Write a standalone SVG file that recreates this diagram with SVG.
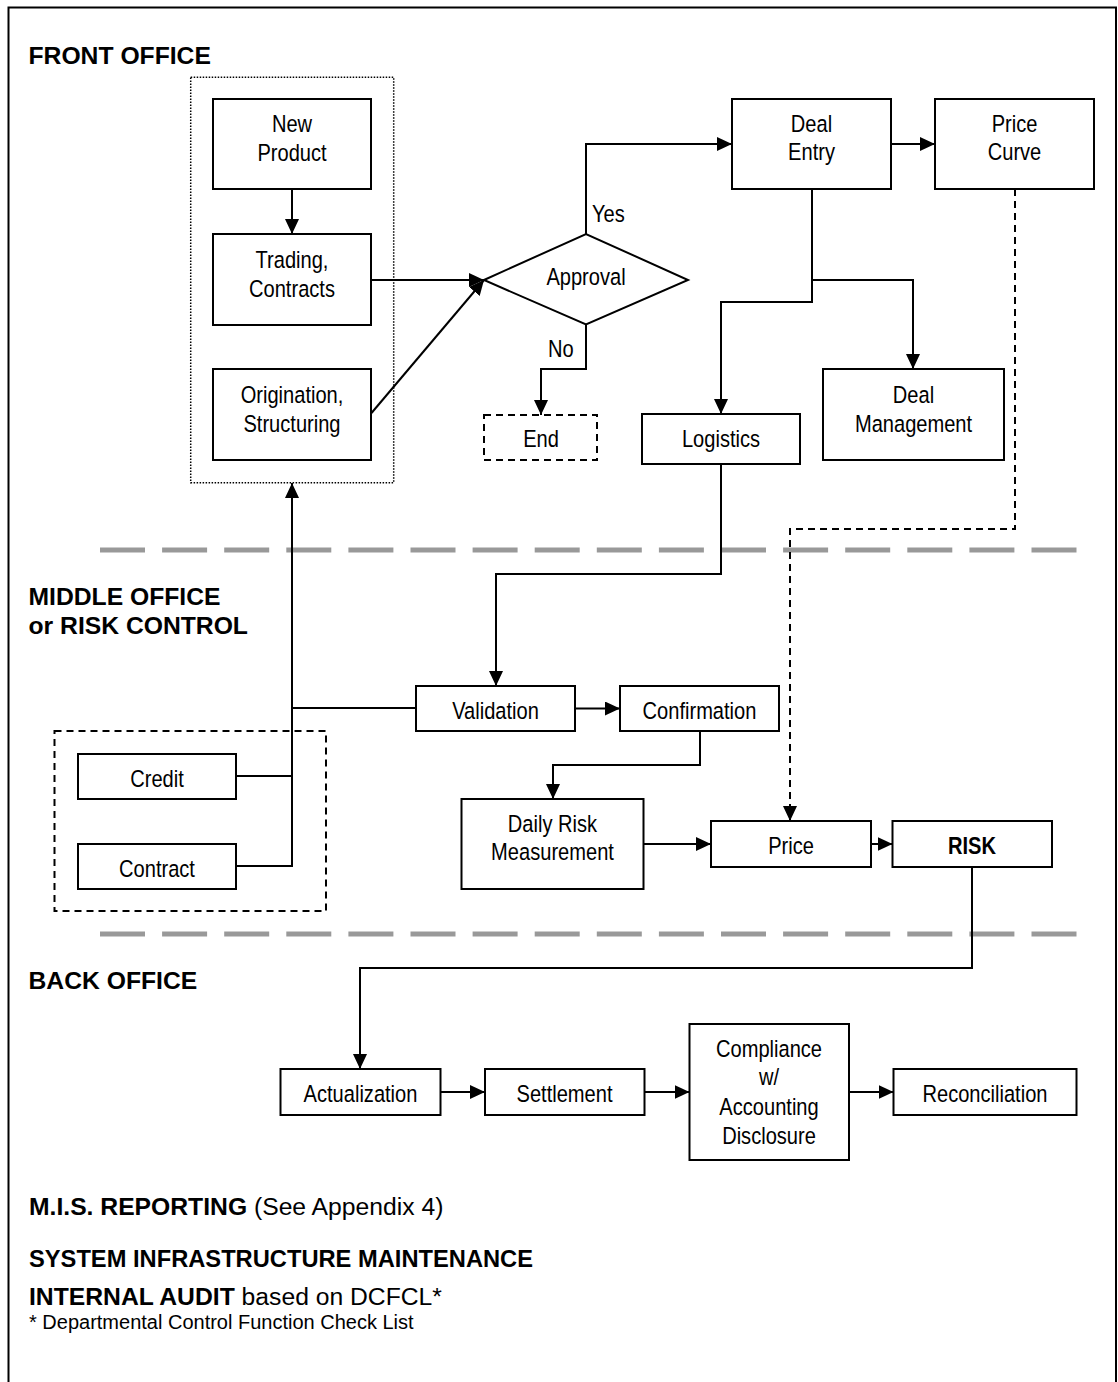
<svg xmlns="http://www.w3.org/2000/svg" width="1118" height="1382" viewBox="0 0 1118 1382">
  <style>
    .box { fill: #fff; stroke: #000; stroke-width: 2; }
    .dash-box { fill: none; stroke: #000; stroke-width: 2; stroke-dasharray: 7 5; }
    .dot-box { fill: none; stroke: #000; stroke-width: 1.5; stroke-dasharray: 1.5 1.5; }
    /* condensed node labels: regular face squeezed horizontally */
    .lbl { font-family: "Liberation Sans", Arial, sans-serif; font-size: 24.5px; fill: #000; text-anchor: middle; }
    .lbl-l { font-family: "Liberation Sans", Arial, sans-serif; font-size: 24.5px; fill: #000; }
    .head { font-family: "Liberation Sans", Arial, sans-serif; font-size: 24.7px; font-weight: bold; fill: #000; }
    .plain { font-family: "Liberation Sans", Arial, sans-serif; font-size: 24.7px; fill: #000; }
    .note { font-family: "Liberation Sans", Arial, sans-serif; font-size: 20px; fill: #000; }
    .wire { fill: none; stroke: #000; stroke-width: 2; }
    .wire-d { fill: none; stroke: #000; stroke-width: 2; stroke-dasharray: 7 5; }
    .sep { fill: none; stroke: #999; stroke-width: 5; stroke-dasharray: 45 17.1; }
  </style>
  <defs>
    <marker id="arrow" markerUnits="userSpaceOnUse" markerWidth="15" markerHeight="14" refX="15" refY="7" orient="auto">
      <path d="M0,0 L15,7 L0,14 Z" fill="#000"/>
    </marker>
  </defs>

  <!-- page frame -->
  <rect x="8.5" y="7.5" width="1107.5" height="1390" fill="#fff" stroke="#000" stroke-width="2"/>

  <!-- section separators -->
  <path class="sep" d="M100,550 H1078"/>
  <path class="sep" d="M100,934 H1078"/>

  <!-- section headings -->
  <g id="headings">
    <text class="head" x="28.5" y="64">FRONT OFFICE</text>
    <text class="head" x="28.5" y="605">MIDDLE OFFICE</text>
    <text class="head" x="28.5" y="634">or RISK CONTROL</text>
    <text class="head" x="28.5" y="989">BACK OFFICE</text>
  </g>

  <!-- group outlines -->
  <rect id="front-group" class="dot-box" x="190.7" y="77.3" width="203" height="405.4"/>
  <rect id="credit-group" class="dash-box" x="54.5" y="731" width="271.5" height="180"/>

  <!-- connectors -->
  <g id="connectors">
    <path class="wire" d="M292,189 V234" marker-end="url(#arrow)"/>
    <path class="wire" d="M371,280 H484" marker-end="url(#arrow)"/>
    <path class="wire" d="M371.5,413 L484,280" marker-end="url(#arrow)"/>
    <path class="wire" d="M586,234 V144 H732" marker-end="url(#arrow)"/>
    <path class="wire" d="M586,324 V369 H541 V415" marker-end="url(#arrow)"/>
    <path class="wire" d="M891,144 H935" marker-end="url(#arrow)"/>
    <path class="wire" d="M812,189 V302 H721 V414" marker-end="url(#arrow)"/>
    <path class="wire" d="M812,280 H913 V369" marker-end="url(#arrow)"/>
    <path class="wire-d" d="M1015,189 V529 H790 V821" marker-end="url(#arrow)"/>
    <path class="wire" d="M721,464 V574 H496 V686" marker-end="url(#arrow)"/>
    <path class="wire" d="M236,776 H292"/>
    <path class="wire" d="M236,866 H292 V483" marker-end="url(#arrow)"/>
    <path class="wire" d="M292,708 H416"/>
    <path class="wire" d="M575,708.5 H620" marker-end="url(#arrow)"/>
    <path class="wire" d="M700,731 V765 H553 V799" marker-end="url(#arrow)"/>
    <path class="wire" d="M643.5,844 H711" marker-end="url(#arrow)"/>
    <path class="wire" d="M871,844 H892.5" marker-end="url(#arrow)"/>
    <path class="wire" d="M972,867 V968 H360 V1069" marker-end="url(#arrow)"/>
    <path class="wire" d="M440.5,1092 H485" marker-end="url(#arrow)"/>
    <path class="wire" d="M644.5,1092 H689.5" marker-end="url(#arrow)"/>
    <path class="wire" d="M849,1092 H893.5" marker-end="url(#arrow)"/>
  </g>

  <!-- front office -->
  <g id="new-product">
    <rect class="box" x="213" y="99" width="158" height="90"/>
    <g transform="translate(292 0) scale(0.82 1)">
      <text class="lbl" x="0" y="132">New</text>
      <text class="lbl" x="0" y="161">Product</text>
    </g>
  </g>
  <g id="trading">
    <rect class="box" x="213" y="234" width="158" height="91"/>
    <g transform="translate(292 0) scale(0.82 1)">
      <text class="lbl" x="0" y="268">Trading,</text>
      <text class="lbl" x="0" y="297">Contracts</text>
    </g>
  </g>
  <g id="origination">
    <rect class="box" x="213" y="369" width="158" height="91"/>
    <g transform="translate(292 0) scale(0.82 1)">
      <text class="lbl" x="0" y="403">Origination,</text>
      <text class="lbl" x="0" y="432">Structuring</text>
    </g>
  </g>
  <g id="approval">
    <path class="box" d="M484,280 L586,234 L688,280 L586,324.5 Z"/>
    <g transform="translate(586 0) scale(0.82 1)">
      <text class="lbl" x="0" y="285">Approval</text>
    </g>
    <g transform="translate(592 0) scale(0.82 1)">
      <text class="lbl-l" x="0" y="222">Yes</text>
    </g>
    <g transform="translate(548 0) scale(0.82 1)">
      <text class="lbl-l" x="0" y="357">No</text>
    </g>
  </g>
  <g id="end">
    <rect class="dash-box" x="484" y="415" width="113" height="45"/>
    <g transform="translate(541 0) scale(0.82 1)">
      <text class="lbl" x="0" y="447">End</text>
    </g>
  </g>
  <g id="deal-entry">
    <rect class="box" x="732" y="99" width="159" height="90"/>
    <g transform="translate(811.5 0) scale(0.82 1)">
      <text class="lbl" x="0" y="132">Deal</text>
      <text class="lbl" x="0" y="160">Entry</text>
    </g>
  </g>
  <g id="price-curve">
    <rect class="box" x="935" y="99" width="159" height="90"/>
    <g transform="translate(1014.5 0) scale(0.82 1)">
      <text class="lbl" x="0" y="132">Price</text>
      <text class="lbl" x="0" y="160">Curve</text>
    </g>
  </g>
  <g id="deal-management">
    <rect class="box" x="823" y="369" width="181" height="91"/>
    <g transform="translate(913.5 0) scale(0.82 1)">
      <text class="lbl" x="0" y="403">Deal</text>
      <text class="lbl" x="0" y="432">Management</text>
    </g>
  </g>
  <g id="logistics">
    <rect class="box" x="642" y="414" width="158" height="50"/>
    <g transform="translate(721 0) scale(0.82 1)">
      <text class="lbl" x="0" y="447">Logistics</text>
    </g>
  </g>

  <!-- middle office -->
  <g id="validation">
    <rect class="box" x="416" y="686" width="159" height="45"/>
    <g transform="translate(495.5 0) scale(0.82 1)">
      <text class="lbl" x="0" y="719">Validation</text>
    </g>
  </g>
  <g id="confirmation">
    <rect class="box" x="620" y="686" width="159" height="45"/>
    <g transform="translate(699.5 0) scale(0.82 1)">
      <text class="lbl" x="0" y="719">Confirmation</text>
    </g>
  </g>
  <g id="credit">
    <rect class="box" x="78" y="754" width="158" height="45"/>
    <g transform="translate(157 0) scale(0.82 1)">
      <text class="lbl" x="0" y="787">Credit</text>
    </g>
  </g>
  <g id="contract">
    <rect class="box" x="78" y="844" width="158" height="45"/>
    <g transform="translate(157 0) scale(0.82 1)">
      <text class="lbl" x="0" y="877">Contract</text>
    </g>
  </g>
  <g id="daily-risk">
    <rect class="box" x="461.5" y="799" width="182" height="90"/>
    <g transform="translate(552.5 0) scale(0.82 1)">
      <text class="lbl" x="0" y="832">Daily Risk</text>
      <text class="lbl" x="0" y="860">Measurement</text>
    </g>
  </g>
  <g id="price">
    <rect class="box" x="711" y="821" width="160" height="46"/>
    <g transform="translate(791 0) scale(0.82 1)">
      <text class="lbl" x="0" y="854">Price</text>
    </g>
  </g>
  <g id="risk">
    <rect class="box" x="892.5" y="821" width="159.5" height="46"/>
    <g transform="translate(972 0) scale(0.82 1)">
      <text class="lbl" x="0" y="854" font-weight="bold">RISK</text>
    </g>
  </g>

  <!-- back office -->
  <g id="actualization">
    <rect class="box" x="280.5" y="1069" width="160" height="46"/>
    <g transform="translate(360.5 0) scale(0.82 1)">
      <text class="lbl" x="0" y="1102">Actualization</text>
    </g>
  </g>
  <g id="settlement">
    <rect class="box" x="485" y="1069" width="159.5" height="46"/>
    <g transform="translate(564.5 0) scale(0.82 1)">
      <text class="lbl" x="0" y="1102">Settlement</text>
    </g>
  </g>
  <g id="compliance">
    <rect class="box" x="689.5" y="1024" width="159.5" height="136"/>
    <g transform="translate(769 0) scale(0.82 1)">
      <text class="lbl" x="0" y="1057">Compliance</text>
      <text class="lbl" x="0" y="1085">w/</text>
      <text class="lbl" x="0" y="1115">Accounting</text>
      <text class="lbl" x="0" y="1144">Disclosure</text>
    </g>
  </g>
  <g id="reconciliation">
    <rect class="box" x="893.5" y="1069" width="183" height="46"/>
    <g transform="translate(985 0) scale(0.82 1)">
      <text class="lbl" x="0" y="1102">Reconciliation</text>
    </g>
  </g>

  <!-- reporting notes -->
  <g id="notes">
    <text x="29" y="1215"><tspan class="head">M.I.S. REPORTING</tspan><tspan class="plain"> (See Appendix 4)</tspan></text>
    <text class="head" x="29" y="1267" textLength="504" lengthAdjust="spacingAndGlyphs">SYSTEM INFRASTRUCTURE MAINTENANCE</text>
    <text x="29" y="1305"><tspan class="head">INTERNAL AUDIT</tspan><tspan class="plain"> based on DCFCL*</tspan></text>
    <text class="note" x="29" y="1329">* Departmental Control Function Check List</text>
  </g>
</svg>
